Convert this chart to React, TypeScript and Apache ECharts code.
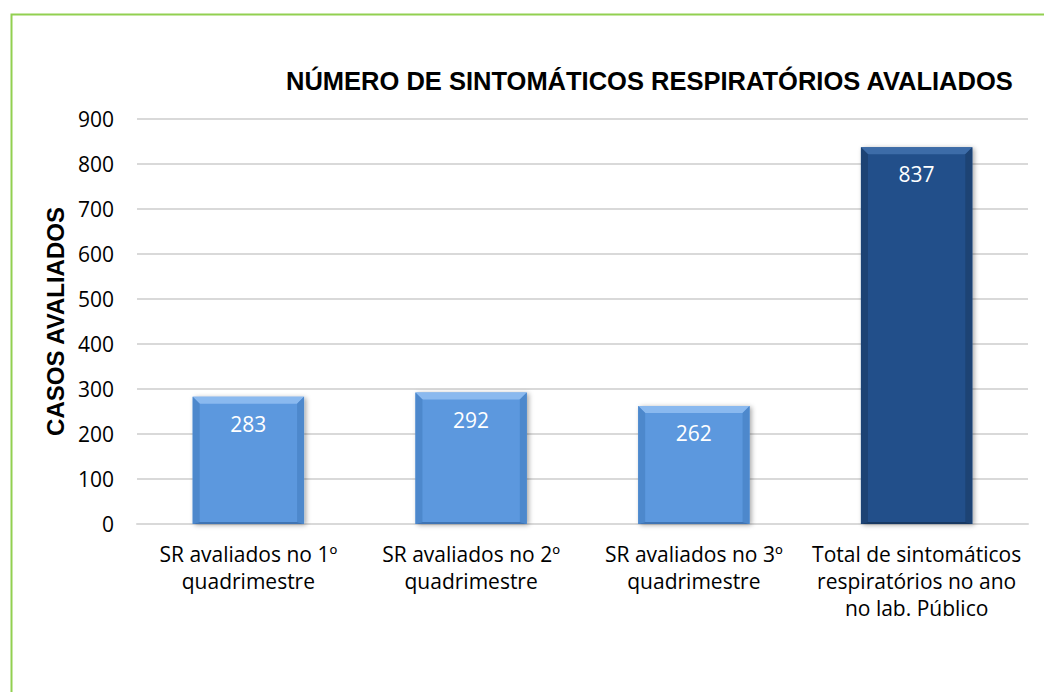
import React, { useEffect, useRef } from "react";
import * as echarts from "echarts";

const categories = [
  "SR avaliados no 1º\nquadrimestre",
  "SR avaliados no 2º\nquadrimestre",
  "SR avaliados no 3º\nquadrimestre",
  "Total de sintomáticos\nrespiratórios no ano\nno lab. Público",
];
const values = [283, 292, 262, 837];
const yTicks = { min: 0, max: 900, interval: 100 };
const titleText = "NÚMERO DE SINTOMÁTICOS RESPIRATÓRIOS AVALIADOS";
const yAxisName = "CASOS AVALIADOS";

const LIGHT = { face: "#5b98de", top: "#8ab9ef", side: "#4d88cc", bottom: "#3f74b4" };
const DARK = { face: "#24508a", top: "#3d6ca8", side: "#1d4374", bottom: "#173862" };
const LABEL_FONT = '"Open Sans", "Noto Sans", sans-serif';

export default function App() {
  const ref = useRef<HTMLDivElement>(null);
  useEffect(() => {
    if (!ref.current) return;
    const chart = echarts.init(ref.current, null, { renderer: "svg" });
    const option: any = {
      animation: false,
      backgroundColor: "#ffffff",
      title: {
        text: titleText,
        left: 281,
        top: 63,
        textStyle: {
          fontFamily: '"Liberation Sans", Arial, sans-serif',
          fontWeight: "bold",
          fontSize: 25.5,
          color: "#000000",
        },
      },
      graphic: [
        {
          type: "rect",
          left: 9,
          top: 12,
          shape: { x: 0, y: 0, width: 1200, height: 900 },
          style: { fill: "none", stroke: "#92d050", lineWidth: 2 },
          silent: true,
          z: -1,
        },
      ],
      grid: { left: 137, right: 16, top: 119, bottom: 168 },
      xAxis: {
        type: "category",
        data: categories,
        axisLine: { show: true, lineStyle: { color: "#d9d9d9", width: 2 } },
        axisTick: { show: false },
        axisLabel: {
          interval: 0,
          margin: 16,
          color: "#000000",
          fontFamily: LABEL_FONT,
          fontSize: 21,
          lineHeight: 27,
        },
      },
      yAxis: {
        type: "value",
        min: yTicks.min,
        max: yTicks.max,
        interval: yTicks.interval,
        name: yAxisName,
        nameLocation: "middle",
        nameGap: 70,
        nameRotate: 90,
        nameTextStyle: {
          fontFamily: '"Liberation Sans", Arial, sans-serif',
          fontWeight: "bold",
          fontSize: 24,
          color: "#000000",
        },
        axisLine: { show: false },
        axisTick: { show: false },
        splitLine: { lineStyle: { color: "#d9d9d9", width: 2 } },
        axisLabel: {
          margin: 23,
          color: "#000000",
          fontFamily: LABEL_FONT,
          fontSize: 21,
        },
      },
      series: [
        {
          type: "custom",
          data: values.map((v, i) => [i, v]),
          encode: { x: 0, y: 1 },
          renderItem: (params: any, api: any) => {
            const idx = api.value(0);
            const val = api.value(1);
            const topPt = api.coord([idx, val]);
            const basePt = api.coord([idx, 0]);
            const band = api.size([1, 0])[0];
            const w = band * 0.5;
            const l = topPt[0] - w / 2;
            const r = l + w;
            const t = topPt[1];
            const b = basePt[1];
            const d = 7;
            const c = idx === categories.length - 1 ? DARK : LIGHT;
            return {
              type: "group",
              children: [
                {
                  type: "rect",
                  shape: { x: l, y: t, width: w, height: b - t },
                  style: {
                    fill: c.face,
                    shadowBlur: 5,
                    shadowColor: "rgba(0,0,0,0.35)",
                    shadowOffsetX: 2,
                    shadowOffsetY: 1,
                  },
                },
                {
                  type: "polygon",
                  shape: { points: [[l, t], [r, t], [r - d, t + d], [l + d, t + d]] },
                  style: { fill: c.top },
                },
                {
                  type: "polygon",
                  shape: { points: [[l, t], [l + d, t + d], [l + d, b - 2], [l, b]] },
                  style: { fill: c.side },
                },
                {
                  type: "polygon",
                  shape: { points: [[r, t], [r - d, t + d], [r - d, b - 2], [r, b]] },
                  style: { fill: c.side },
                },
                {
                  type: "polygon",
                  shape: { points: [[l, b], [l + d, b - 2], [r - d, b - 2], [r, b]] },
                  style: { fill: c.bottom },
                },
                {
                  type: "text",
                  style: {
                    text: String(val),
                    x: (l + r) / 2,
                    y: t + 27,
                    align: "center",
                    verticalAlign: "middle",
                    fill: "#ffffff",
                    fontFamily: LABEL_FONT,
                    fontSize: 21,
                  },
                },
              ],
            };
          },
        },
      ],
    };
    chart.setOption(option);
    return () => chart.dispose();
  }, []);
  return (
    <div
      ref={ref}
      style={{ position: "absolute", left: 0, top: 0, width: 1044, height: 692 }}
    />
  );
}
